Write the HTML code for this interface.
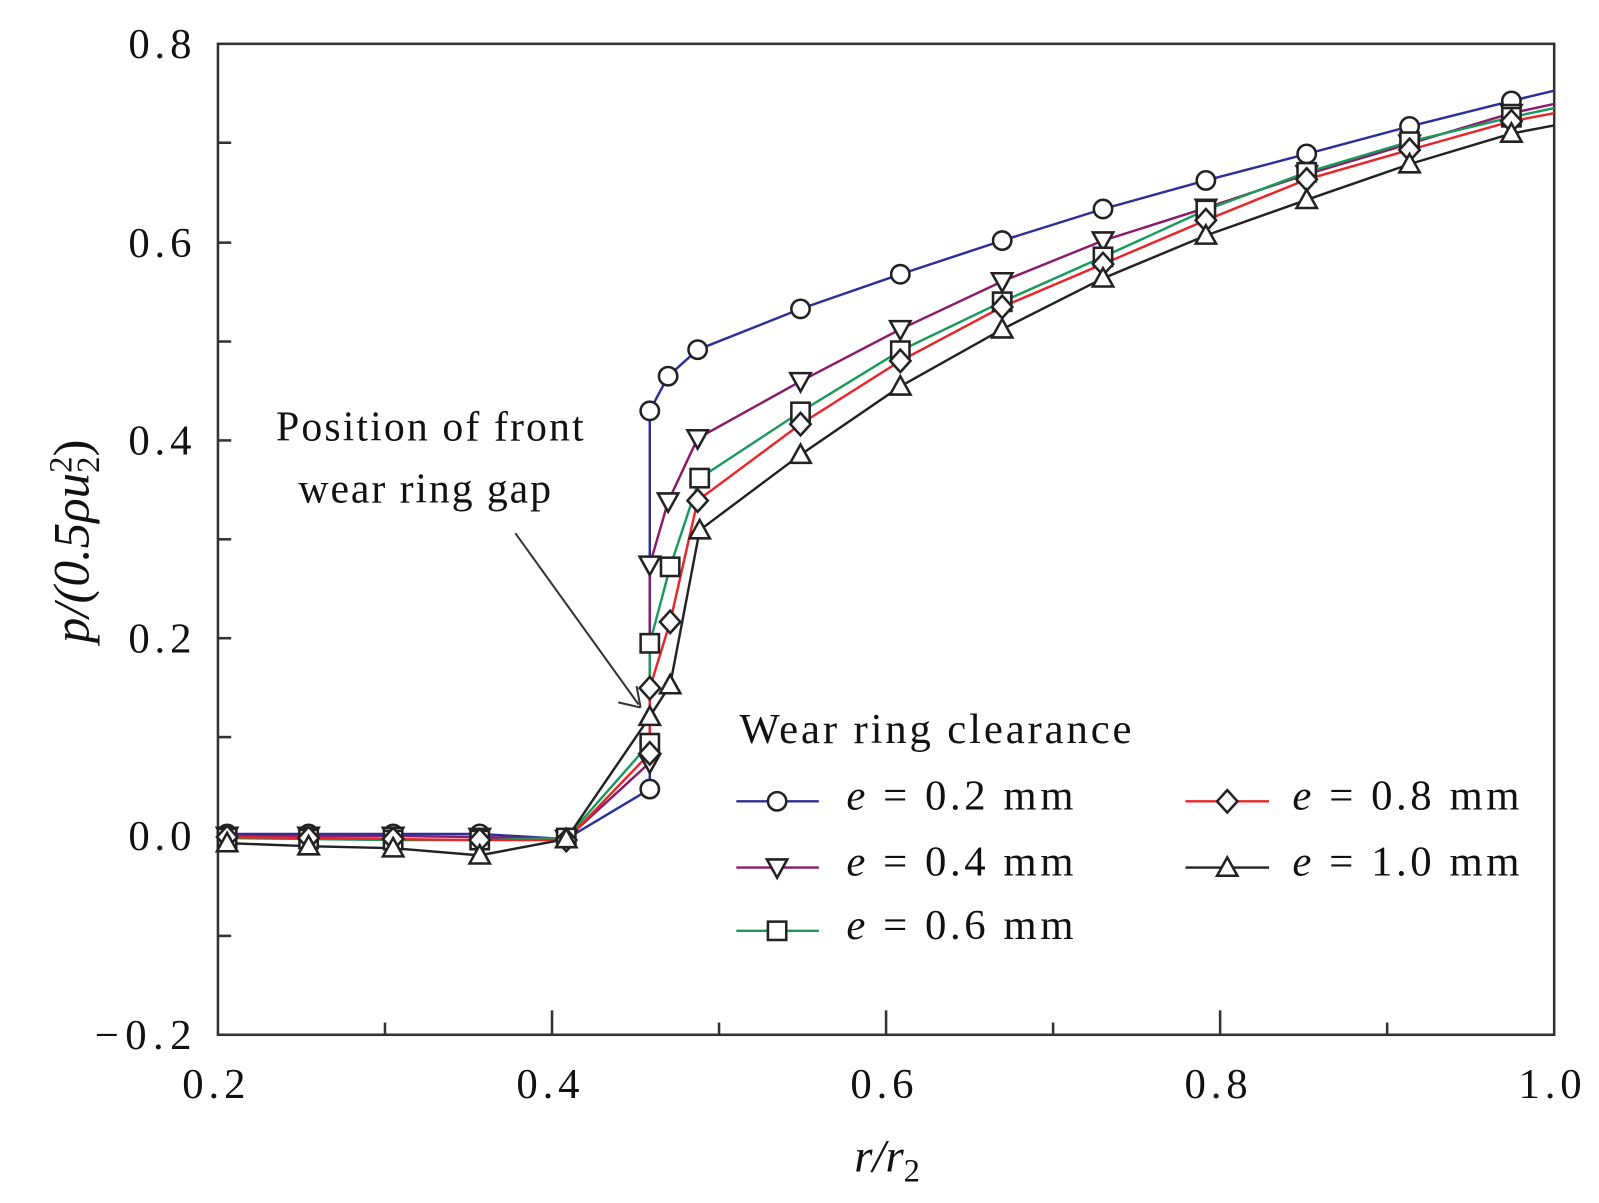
<!DOCTYPE html>
<html><head><meta charset="utf-8"><style>
html,body{margin:0;padding:0;background:#fff}
svg{display:block}
text{font-family:"Liberation Serif",serif;fill:#111}
</style></head><body>
<svg width="1599" height="1203" viewBox="-1 -1 1570 1180" preserveAspectRatio="none" xmlns="http://www.w3.org/2000/svg">
<defs>
<circle id="mc" r="9" fill="#fff" stroke="#222" stroke-width="2.5"/>
<path id="md" d="M-10,-8 L10,-8 L0,10 Z" fill="#fff" stroke="#222" stroke-width="2.5"/>
<rect id="ms" x="-9" y="-9" width="18" height="18" fill="#fff" stroke="#222" stroke-width="2.5"/>
<path id="mdi" d="M0,-11 L10,0 L0,11 L-10,0 Z" fill="#fff" stroke="#222" stroke-width="2.5"/>
<path id="mu" d="M0,-10 L10,8 L-10,8 Z" fill="#fff" stroke="#222" stroke-width="2.5"/>
</defs>
<rect x="213" y="42" width="1312" height="972" fill="none" stroke="#333" stroke-width="2.5"/>
<g stroke="#333" stroke-width="2.5">
<line x1="213" y1="139" x2="226" y2="139"/><line x1="213" y1="237" x2="226" y2="237"/>
<line x1="213" y1="334" x2="226" y2="334"/><line x1="213" y1="431" x2="226" y2="431"/>
<line x1="213" y1="528" x2="226" y2="528"/><line x1="213" y1="625" x2="226" y2="625"/>
<line x1="213" y1="722" x2="226" y2="722"/><line x1="213" y1="819" x2="226" y2="819"/>
<line x1="213" y1="917" x2="226" y2="917"/>
<line x1="377" y1="1014" x2="377" y2="1002"/><line x1="541" y1="1014" x2="541" y2="990"/>
<line x1="705" y1="1014" x2="705" y2="1002"/><line x1="869" y1="1014" x2="869" y2="990"/>
<line x1="1033" y1="1014" x2="1033" y2="1002"/><line x1="1197" y1="1014" x2="1197" y2="990"/>
<line x1="1361" y1="1014" x2="1361" y2="1002"/>
</g>
<g font-size="42">
<text x="125" y="56" textLength="62">0.8</text><text x="125" y="251" textLength="62">0.6</text><text x="125" y="445" textLength="62">0.4</text>
<text x="125" y="639" textLength="62">0.2</text><text x="125" y="833" textLength="62">0.0</text><text x="92" y="1028" textLength="95">−0.2</text>
</g>
<g font-size="42">
<text x="178" y="1076" textLength="62">0.2</text><text x="506" y="1076" textLength="62">0.4</text><text x="834" y="1076" textLength="62">0.6</text>
<text x="1162" y="1076" textLength="62">0.8</text><text x="1490" y="1076" textLength="62">1.0</text>
</g>
<text x="870" y="1148" font-size="46" text-anchor="middle" font-style="italic">r/r<tspan font-style="normal" font-size="32" dy="10">2</tspan></text>
<text transform="translate(86,530) rotate(-90)" font-size="50" text-anchor="middle" font-style="italic">p/(0.5ρu<tspan font-style="normal" font-size="32" dy="10">2</tspan><tspan font-style="normal" font-size="32" dx="-16" dy="-27">2</tspan><tspan font-style="normal" dy="17">)</tspan></text>
<text x="270" y="431" font-size="41" textLength="302">Position of front</text>
<text x="292" y="492" font-size="41" textLength="248">wear ring gap</text>
<line x1="505" y1="522" x2="626" y2="690" stroke="#333" stroke-width="2"/>
<path d="M628,693 L606,688 M628,693 L624,672" stroke="#333" stroke-width="2" fill="none"/>
<g fill="none" stroke-width="2.4">
<polyline stroke="#2b2f9a" points="222,817 302,817 385,817 470,817 555,822 637,773 637,402 655,368 684,342 785,302 883,268 983,235 1082,204 1183,176 1282,150 1383,123 1483,98 1525,88"/>
<polyline stroke="#8b1a6b" points="222,819 302,819 385,819 470,820 555,822 637,747 637,553 655,491 684,429 785,373 883,322 983,275 1082,235 1183,203 1282,170 1383,140 1483,110 1525,101"/>
<polyline stroke="#1a9a5a" points="222,821 302,822 385,823 470,823 555,821 637,728 637,630 657,555 686,468 785,403 883,343 983,295 1082,251 1183,205 1282,168 1383,138 1483,114 1525,105"/>
<polyline stroke="#e8262a" points="222,820 302,821 385,822 470,823 555,823 637,738 637,674 657,609 684,490 785,415 883,353 983,300 1082,258 1183,215 1282,175 1383,146 1483,118 1525,110"/>
<polyline stroke="#222" points="222,826 302,829 385,831 470,838 555,822 637,702 657,671 686,519 785,445 883,378 983,322 1082,272 1183,230 1282,195 1383,160 1483,130 1525,122"/>
</g>
<g>
<use href="#mc" x="222" y="817"/><use href="#mc" x="302" y="817"/><use href="#mc" x="385" y="817"/><use href="#mc" x="470" y="817"/><use href="#mc" x="555" y="822"/><use href="#mc" x="637" y="773"/><use href="#mc" x="637" y="402"/><use href="#mc" x="655" y="368"/><use href="#mc" x="684" y="342"/><use href="#mc" x="785" y="302"/><use href="#mc" x="883" y="268"/><use href="#mc" x="983" y="235"/><use href="#mc" x="1082" y="204"/><use href="#mc" x="1183" y="176"/><use href="#mc" x="1282" y="150"/><use href="#mc" x="1383" y="123"/><use href="#mc" x="1483" y="98"/>
<use href="#md" x="222" y="819"/><use href="#md" x="302" y="819"/><use href="#md" x="385" y="819"/><use href="#md" x="470" y="820"/><use href="#md" x="555" y="822"/><use href="#md" x="637" y="747"/><use href="#md" x="637" y="553"/><use href="#md" x="655" y="491"/><use href="#md" x="684" y="429"/><use href="#md" x="785" y="373"/><use href="#md" x="883" y="322"/><use href="#md" x="983" y="275"/><use href="#md" x="1082" y="235"/><use href="#md" x="1183" y="203"/><use href="#md" x="1282" y="170"/><use href="#md" x="1383" y="140"/><use href="#md" x="1483" y="110"/>
<use href="#ms" x="222" y="821"/><use href="#ms" x="302" y="822"/><use href="#ms" x="385" y="823"/><use href="#ms" x="470" y="823"/><use href="#ms" x="555" y="821"/><use href="#ms" x="637" y="728"/><use href="#ms" x="637" y="630"/><use href="#ms" x="657" y="555"/><use href="#ms" x="686" y="468"/><use href="#ms" x="785" y="403"/><use href="#ms" x="883" y="343"/><use href="#ms" x="983" y="295"/><use href="#ms" x="1082" y="251"/><use href="#ms" x="1183" y="205"/><use href="#ms" x="1282" y="168"/><use href="#ms" x="1383" y="138"/><use href="#ms" x="1483" y="114"/>
<use href="#mdi" x="222" y="820"/><use href="#mdi" x="302" y="821"/><use href="#mdi" x="385" y="822"/><use href="#mdi" x="470" y="823"/><use href="#mdi" x="555" y="823"/><use href="#mdi" x="637" y="738"/><use href="#mdi" x="637" y="674"/><use href="#mdi" x="657" y="609"/><use href="#mdi" x="684" y="490"/><use href="#mdi" x="785" y="415"/><use href="#mdi" x="883" y="353"/><use href="#mdi" x="983" y="300"/><use href="#mdi" x="1082" y="258"/><use href="#mdi" x="1183" y="215"/><use href="#mdi" x="1282" y="175"/><use href="#mdi" x="1383" y="146"/><use href="#mdi" x="1483" y="118"/>
<use href="#mu" x="222" y="826"/><use href="#mu" x="302" y="829"/><use href="#mu" x="385" y="831"/><use href="#mu" x="470" y="838"/><use href="#mu" x="555" y="822"/><use href="#mu" x="637" y="702"/><use href="#mu" x="657" y="671"/><use href="#mu" x="686" y="519"/><use href="#mu" x="785" y="445"/><use href="#mu" x="883" y="378"/><use href="#mu" x="983" y="322"/><use href="#mu" x="1082" y="272"/><use href="#mu" x="1183" y="230"/><use href="#mu" x="1282" y="195"/><use href="#mu" x="1383" y="160"/><use href="#mu" x="1483" y="130"/>
</g>
<text x="725" y="728" font-size="42" textLength="385">Wear ring clearance</text>
<g stroke-width="2.4">
<line x1="722" y1="785" x2="803" y2="785" stroke="#2b2f9a"/><use href="#mc" x="762" y="785"/>
<line x1="722" y1="850" x2="803" y2="850" stroke="#8b1a6b"/><use href="#md" x="762" y="850"/>
<line x1="722" y1="912" x2="803" y2="912" stroke="#1a9a5a"/><use href="#ms" x="762" y="912"/>
<line x1="1163" y1="785" x2="1245" y2="785" stroke="#e8262a"/><use href="#mdi" x="1204" y="785"/>
<line x1="1163" y1="850" x2="1245" y2="850" stroke="#222"/><use href="#mu" x="1204" y="850"/>
</g>
<g font-size="42">
<text x="830" y="793" textLength="223"><tspan font-style="italic">e</tspan> = 0.2 mm</text>
<text x="830" y="858" textLength="223"><tspan font-style="italic">e</tspan> = 0.4 mm</text>
<text x="830" y="920" textLength="223"><tspan font-style="italic">e</tspan> = 0.6 mm</text>
<text x="1268" y="793" textLength="223"><tspan font-style="italic">e</tspan> = 0.8 mm</text>
<text x="1268" y="858" textLength="223"><tspan font-style="italic">e</tspan> = 1.0 mm</text>
</g>
</svg>
</body></html>
